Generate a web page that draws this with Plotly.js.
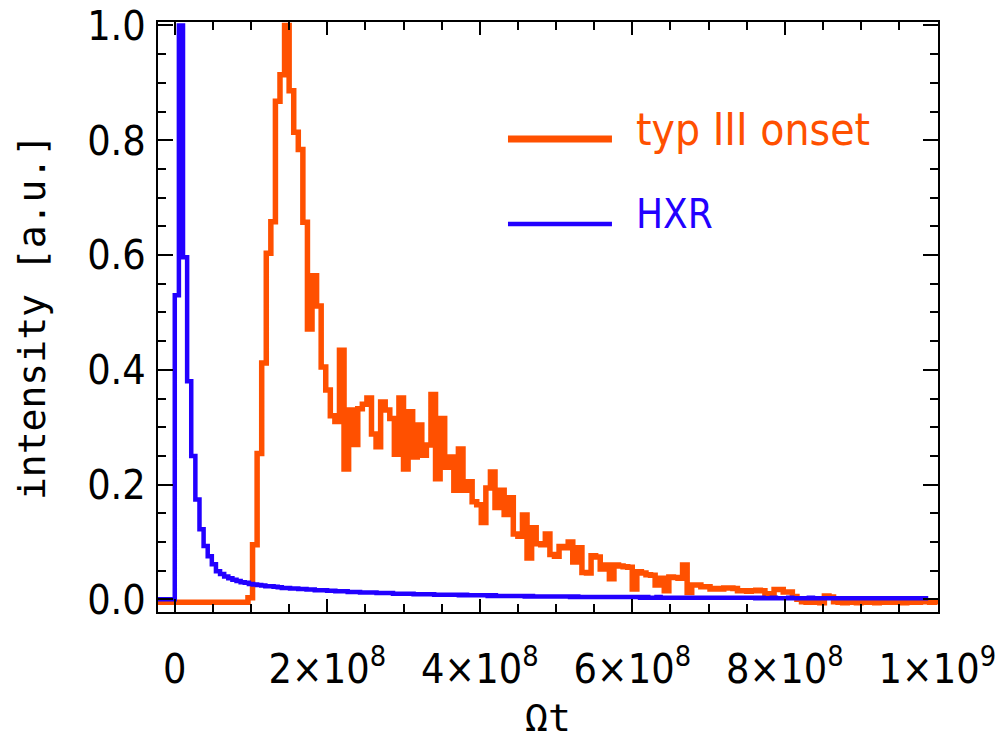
<!DOCTYPE html>
<html>
<head>
<meta charset="utf-8">
<script src="https://cdn.plot.ly/plotly-3.0.1.min.js"></script>
<style>
  html, body { margin: 0; padding: 0; background: #ffffff; }
  #chart { width: 999px; height: 742px; }
</style>
</head>
<body>
<div id="chart"></div>
<script>
// ---------------- data ----------------
const seriesNames = ["typ III onset", "HXR"];

// typ III onset histogram: first bin start and bin width (in Ωt), then bin heights
const onsetBinStart = -24e6;
const onsetBinWidth = 6e6;
const onsetValues = [
  -0.005, -0.005, -0.005, -0.005, -0.005, -0.005, -0.005, -0.005, -0.005, -0.005,
  -0.005, -0.005, -0.005, -0.005, -0.005, -0.005, -0.005, -0.005, -0.005, -0.005,
  0.003, 0.095, 0.254, 0.412, 0.603, 0.658, 0.868, 0.914, 1.0,
  0.886, 0.814, 0.784, 0.657, 0.471, 0.564, 0.511, 0.405, 0.365, 0.32, 0.31,
  0.434, 0.227, 0.33, 0.27, 0.332, 0.34, 0.351, 0.288, 0.266, 0.344,
  0.33, 0.315, 0.253, 0.351, 0.227, 0.327, 0.248, 0.304, 0.251, 0.269, 0.357,
  0.21, 0.315, 0.23, 0.248, 0.19, 0.262, 0.19, 0.205, 0.17, 0.165, 0.134, 0.194, 0.222,
  0.16, 0.19, 0.148, 0.177, 0.114, 0.11, 0.147, 0.072, 0.125, 0.097, 0.095, 0.114,
  0.078, 0.075, 0.092, 0.09, 0.1,
  0.065, 0.09, 0.047, 0.046, 0.076, 0.074, 0.053, 0.06, 0.036, 0.06, 0.058, 0.057,
  0.056, 0.018, 0.048, 0.046, 0.043, 0.042, 0.025, 0.037, 0.015, 0.039, 0.038, 0.037,
  0.06, 0.012,
  0.025, 0.025, 0.022, 0.022, 0.018, 0.019, 0.018, 0.02, 0.02, 0.019, 0.015, 0.015,
  0.014, 0.015, 0.016, 0.015, 0.01, 0.01, 0.017, 0.017, 0.013, 0.013, 0.005,
  0.0, -0.004, -0.005, -0.005, -0.004, -0.006, 0.006, 0.004, -0.004, -0.005, -0.006,
  -0.005, -0.004, -0.006, -0.005, -0.004, -0.005, -0.006, -0.004, -0.005, -0.003,
  -0.005, -0.004, -0.006, -0.005, -0.004, -0.005, -0.003, -0.004, -0.005, -0.004
];

// HXR histogram
const hxrBinStart = -27e6;
const hxrBinWidth = 5.4e6;
const hxrValues = [
  0, 0, 0, 0, 0,
  0.53, 1.0, 0.596, 0.38, 0.25, 0.174, 0.122, 0.093, 0.075, 0.061, 0.049,
  0.044, 0.040, 0.037, 0.034, 0.032, 0.030, 0.029, 0.027, 0.026, 0.025,
  0.024, 0.023, 0.023, 0.022, 0.021, 0.020, 0.020, 0.019, 0.019, 0.018,
  0.018, 0.017, 0.017, 0.016, 0.016, 0.016, 0.015, 0.015, 0.014, 0.014,
  0.014, 0.013, 0.013, 0.013, 0.012, 0.012, 0.012, 0.012, 0.011, 0.011,
  0.011, 0.011, 0.010, 0.010, 0.010, 0.010, 0.010, 0.009, 0.009, 0.009,
  0.009, 0.009, 0.008, 0.008, 0.008, 0.008, 0.008, 0.008, 0.007, 0.008,
  0.007, 0.007, 0.007, 0.007, 0.007, 0.006, 0.007, 0.006, 0.006, 0.006,
  0.006, 0.006, 0.006, 0.006, 0.005, 0.006, 0.005, 0.005, 0.005, 0.005,
  0.005, 0.005, 0.005, 0.005, 0.005, 0.004, 0.005, 0.004, 0.004, 0.004,
  0.004, 0.004, 0.004, 0.004, 0.004, 0.004, 0.004, 0.004, 0.004, 0.004,
  0.004, 0.004, 0.003, 0.004, 0.003, 0.003, 0.004, 0.003, 0.003, 0.003,
  0.003, 0.003, 0.003, 0.003, 0.003, 0.003, 0.003, 0.003, 0.003, 0.003,
  0.003, 0.003, 0.003, 0.003, 0.003, 0.003, 0.003, 0.003, 0.003, 0.003,
  0.002, 0.003, 0.002, 0.002, 0.003, 0.002, 0.002, 0.002, 0.003, 0.002,
  0.002, 0.002, 0.002, 0.003, 0.002, 0.002, 0.002, 0.002, 0.002, 0.002,
  0.002, 0.002, 0.002, 0.002, 0.002, 0.002, 0.002, 0.002, 0.002, 0.002,
  0.002, 0.002, 0.002, 0.002, 0.002, 0.002, 0.002, 0.002, 0.002, 0.002,
  0.002, 0.002
];

const xTickVals = [0, 2e8, 4e8, 6e8, 8e8, 1e9];
const xTickText = ["0", "2×10<sup>8</sup>", "4×10<sup>8</sup>", "6×10<sup>8</sup>", "8×10<sup>8</sup>", "1×10<sup>9</sup>"];
const yTickVals = [0, 0.2, 0.4, 0.6, 0.8, 1.0];
const yTickText = ["0.0", "0.2", "0.4", "0.6", "0.8", "1.0"];
const xTitle = "Ωt";
const yTitle = "intensity [a.u.]";

// ---------------- build step traces ----------------
function stepXY(start, width, vals) {
  const x = [], y = [];
  for (let i = 0; i < vals.length; i++) { x.push(start + i * width); y.push(vals[i]); }
  x.push(start + vals.length * width); y.push(vals[vals.length - 1]);
  return {x, y};
}
const on = stepXY(onsetBinStart, onsetBinWidth, onsetValues);
const hx = stepXY(hxrBinStart, hxrBinWidth, hxrValues);

const ORANGE = "#ff5000";
const BLUE = "#2200ff";
const FONT = '"DejaVu Sans Condensed", "Liberation Sans", sans-serif';
const MONO = '"DejaVu Sans Mono", "Liberation Mono", monospace';

const traces = [
  {x: on.x, y: on.y, type: "scatter", mode: "lines", name: seriesNames[0],
   line: {shape: "hv", color: ORANGE, width: 5.5}, showlegend: false},
  {x: hx.x, y: hx.y, type: "scatter", mode: "lines", name: seriesNames[1],
   line: {shape: "hv", color: BLUE, width: 4.5}, showlegend: false}
];

const axisCommon = {
  showgrid: false, zeroline: false, showline: true, linecolor: "#000", linewidth: 2,
  mirror: "allticks", ticks: "inside", tickcolor: "#000", tickwidth: 2,
  ticklabeloverflow: "allow",
  tickfont: {family: FONT, size: 41, color: "#000"}
};

const layout = {
  width: 999, height: 742,
  margin: {l: 158, r: 61, t: 22, b: 130},
  paper_bgcolor: "#fff", plot_bgcolor: "#fff",
  xaxis: Object.assign({}, axisCommon, {
    range: [-2.2e7, 1.001e9], tickmode: "array", tickvals: xTickVals, ticktext: xTickText,
    ticklen: 13, ticklabelstandoff: 20,
    minor: {tickmode: "linear", tick0: 0, dtick: 5e7, ticks: "inside", ticklen: 8, tickwidth: 2, tickcolor: "#000"},
    title: {text: xTitle, font: {family: MONO, size: 38, color: "#000"}, standoff: 12}
  }),
  yaxis: Object.assign({}, axisCommon, {
    range: [-0.022, 1.006], tickmode: "array", tickvals: yTickVals, ticktext: yTickText,
    ticklen: 15, ticklabelstandoff: 2,
    minor: {tickmode: "linear", tick0: 0, dtick: 0.05, ticks: "inside", ticklen: 8, tickwidth: 2, tickcolor: "#000"},
    title: {text: yTitle, font: {family: MONO, size: 38, color: "#000"}, standoff: 30}
  }),
  shapes: [
    {type: "line", xref: "paper", yref: "paper", x0: 0.4487, x1: 0.582, y0: 0.8017, y1: 0.8017,
     line: {color: ORANGE, width: 7}},
    {type: "line", xref: "paper", yref: "paper", x0: 0.4487, x1: 0.582, y0: 0.6576, y1: 0.6576,
     line: {color: BLUE, width: 4.5}}
  ],
  annotations: [
    {xref: "paper", yref: "paper", x: 0.6103, y: 0.817, xanchor: "left", yanchor: "middle",
     text: seriesNames[0], showarrow: false, font: {family: FONT, size: 44, color: ORANGE}},
    {xref: "paper", yref: "paper", x: 0.6103, y: 0.6746, xanchor: "left", yanchor: "middle",
     text: seriesNames[1], showarrow: false, font: {family: FONT, size: 40, color: BLUE}}
  ]
};

Plotly.newPlot("chart", traces, layout, {staticPlot: true, displayModeBar: false});
</script>
</body>
</html>
